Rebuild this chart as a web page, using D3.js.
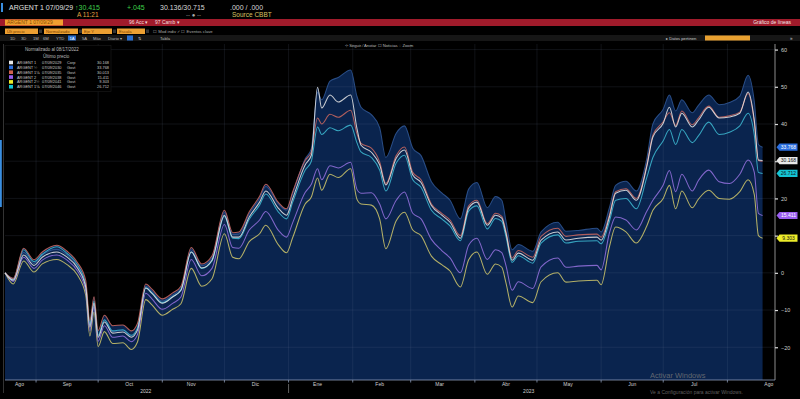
<!DOCTYPE html>
<html><head><meta charset="utf-8">
<script src="https://cdn.jsdelivr.net/npm/d3@7"></script>
<style>html,body{margin:0;padding:0;background:#000;overflow:hidden}svg{display:block}</style>
</head><body>
<svg id="c" width="800" height="399"></svg>
<script>
// ---------- DATA ----------
const dates = ["2022-08-17","2022-08-21","2022-08-26","2022-08-31","2022-09-04","2022-09-11","2022-09-16","2022-09-21","2022-09-25","2022-09-27","2022-09-29","2022-10-01","2022-10-04","2022-10-08","2022-10-13","2022-10-17","2022-10-20","2022-10-24","2022-10-27","2022-11-01","2022-11-06","2022-11-10","2022-11-15","2022-11-20","2022-11-25","2022-12-01","2022-12-05","2022-12-08","2022-12-13","2022-12-18","2022-12-21","2022-12-27","2022-12-31","2023-01-03","2023-01-09","2023-01-12","2023-01-15","2023-01-17","2023-01-21","2023-01-25","2023-01-31","2023-02-03","2023-02-05","2023-02-10","2023-02-14","2023-02-17","2023-02-22","2023-02-26","2023-03-02","2023-03-06","2023-03-11","2023-03-16","2023-03-20","2023-03-25","2023-03-29","2023-04-02","2023-04-07","2023-04-11","2023-04-14","2023-04-16","2023-04-19","2023-04-22","2023-04-29","2023-05-03","2023-05-11","2023-05-15","2023-05-21","2023-05-30","2023-06-01","2023-06-05","2023-06-08","2023-06-13","2023-06-18","2023-06-23","2023-06-26","2023-07-01","2023-07-04","2023-07-07","2023-07-10","2023-07-15","2023-07-18","2023-07-23","2023-07-28","2023-08-02","2023-08-07","2023-08-11","2023-08-14","2023-08-16","2023-08-18"];

const gd29 = [0,-2,4.8,2,4.2,5.6,4.2,1.3,-3.8,-14.6,-8.2,-17.3,-13.2,-16.2,-15.9,-17.3,-15.4,-4.1,-5.5,-8.2,-6.5,-4.7,5.6,1.3,3.4,15.5,9.6,9.6,15,19,22,17.4,15.5,20,29,31.6,49.9,44.3,47.8,45.9,47.8,38.9,34.3,32.4,29,23.6,30.8,33,26.3,24.3,18.1,15.5,13.6,9.3,17.4,19,12.8,15.5,14.7,10.7,3.4,5.3,3.4,8.8,11,8.8,9.3,9.6,8.8,15,21.4,22.2,19.5,28.4,36.5,40.2,44.5,39.2,42.9,39.2,41,44.5,41.6,41.9,42.9,48.6,41,30.3,30.168];
const gd30 = [0,-1.5,5.5,2.5,4.8,6.3,4.8,1.8,-3.4,-14,-7.8,-17,-12.8,-15.8,-15.5,-17,-15,-3.6,-5,-7.6,-6,-4.2,6.2,1.9,4,16.2,10.3,10.4,15.9,20,23.2,18.6,16.8,21.4,30.6,33.4,48.5,46.5,51.5,52.5,54.5,47.5,44.5,42.5,39,31,37.5,39.5,33.5,31.5,24.5,21.5,19.5,14.5,22.5,24.3,17.5,20.5,19.5,14,6.2,7.6,5.8,11,13.6,11.2,11.4,12,11,17.5,23.5,24.6,22,30.5,40,44,47.8,43.5,46.5,43,45,47.8,45.2,45.8,47.5,53.1,46,34.5,33.768];
const gd35 = [0,-1.5,6.6,3.5,5.6,7.4,5.8,2.8,-2,-12.8,-6.4,-15.5,-11.4,-14.2,-14,-15.6,-13.6,-3,-4.4,-7,-5.4,-3.6,6.8,2.4,4.6,16.8,10.8,11,16.4,20.6,23.8,19,17.2,21.8,30.2,32.5,41.6,40,42.6,41.8,43.7,37.5,34.8,33.5,29.8,24,31.5,33.8,27,25,18.5,16,14.2,10,18,19.5,13.2,16,15.2,11.2,4,6,4.2,9.8,12,9.8,10.2,10.4,9.6,15.6,21.8,22.6,20,28.8,37,40.6,43,39.6,43.5,39.8,41.6,44.8,41.8,42.2,43.2,48.2,40.5,30.2,30.013];
const gd38 = [0,-2.3,4.2,1.2,3.4,4.8,3.4,0.5,-4.8,-15.6,-9.2,-18.4,-14.2,-17.3,-17,-18.5,-16.6,-5.5,-7,-9.8,-8.2,-6.5,3.6,-0.8,1.2,13,6.8,6.6,11.5,14.2,16.5,11.5,9.6,13.5,21.6,23.8,28,25,28.8,28.2,29.7,22.5,21.4,21.5,18.5,14.5,19.5,21.7,16,14.5,9,6,4,0,7.4,9.3,3.6,6.2,5.4,2,-4.7,-2.4,-4.2,1.6,4,1.5,1.8,2,0.8,10.7,15,14.2,11.5,16.5,19.5,23.6,27.5,21.8,26.5,22,24.8,27.6,24.5,24,26.5,30.3,27,16,15.411];
const gd41 = [0,-3,3.2,0.2,2.4,3.6,2.2,-0.6,-6,-17,-10.5,-19.8,-15.8,-19,-18.8,-20.6,-18.6,-7.2,-8.6,-11.4,-9.8,-8.3,1.2,-3.6,-1.6,10.5,4.2,3.8,8.4,10.5,12.8,7.6,5.4,9.5,18.5,20.4,25.5,22.2,26.5,25.6,28,19.8,18.5,18.2,14.5,6.5,14,16.3,11.5,10,4.5,2.2,0.5,-3.8,3.5,5.6,-0.4,2.4,1.5,-2.6,-9.2,-6.2,-8,-2.4,0,-2.5,-2.2,-2,-3.2,7,12.3,11,8,12.5,16.8,20,23.5,17.2,22,17.5,19.8,22.2,20,19.8,21.8,25,21,10,9.303];
const gd46 = [0,-1.8,6.2,3,5,7,5.2,2.2,-3.2,-14,-7.6,-16.8,-12.6,-15.6,-15.3,-16.8,-14.8,-4,-5.4,-8,-6.4,-4.6,5.6,1.2,3.2,15.2,9.3,9.2,14.4,18.2,21.2,16.4,14.5,19,27.6,30,39.2,37.2,39,38.2,39.7,35,32.5,31,27.6,22,29.5,31.6,25,23,16.8,14.5,12.6,8.6,16.6,18,11.8,14.6,13.8,9.8,2.8,4.6,2.6,8,10.2,8,8.5,8.6,7.8,13.8,19.5,20,17.2,25.5,31,35.5,38.5,34.5,38.5,35,36.8,40.5,37.2,37.8,39.5,42.9,37,27,26.712];

const seriesKeys   = ["gd29","gd30","gd35","gd38","gd41","gd46"];
const seriesValues = [gd29, gd30, gd35, gd38, gd41, gd46];
const seriesCoupon = ["1","½","1⅛","2","2½","1⅛"];
const seriesMat    = ["07/09/2029","07/09/2030","07/09/2035","07/09/2038","07/09/2041","07/09/2046"];
const seriesType   = ["Corp","Govt","Govt","Govt","Govt","Govt"];
const seriesLast   = ["30.168","33.768","30.013","15.411","9.303","26.712"];
const seriesColor  = ["#e2e2e2","#2f5593","#c8675e","#9270dc","#cbc36a","#3cb6cf"];
const labelColor   = ["#e8e8e8","#2b6fe0","#d0604e","#9a5ef0","#ecec2a","#14c4d4"];
const labelText    = ["#111","#fff","#fff","#fff","#111","#111"];
const showLabel    = [true,true,false,true,true,true];

const yTicks = [-20,-10,0,10,20,30,40,50,60];
const monthStarts = ["2022-09-01","2022-10-01","2022-11-01","2022-12-01","2023-01-01","2023-02-01","2023-03-01","2023-04-01","2023-05-01","2023-06-01","2023-07-01","2023-08-01"];
const monthLabelDates = ["2022-08-24","2022-09-16","2022-10-16","2022-11-15","2022-12-16","2023-01-15","2023-02-14","2023-03-15","2023-04-16","2023-05-16","2023-06-16","2023-07-16","2023-08-21"];
const monthLabels = ["Ago","Sep","Oct","Nov","Dic","Ene","Feb","Mar","Abr","May","Jun","Jul","Ago"];
const yearLabelDates = ["2022-10-24","2023-04-27"];
const yearLabels = ["2022","2023"];
const yearBreak = "2023-01-01";

// ---------- SETUP ----------
const svg = d3.select("#c");
const parse = d3.timeParse("%Y-%m-%d");
const D = dates.map(parse);
const FONT = "Liberation Sans, Arial, sans-serif";

const x = d3.scaleTime().domain([parse("2022-08-17"), parse("2023-08-24")]).range([5, 775]);
const y = d3.scaleLinear().domain([-28.8, 61.5]).range([380, 44]);

// ---------- HEADER ----------
const hdr = svg.append("g").attr("font-family", FONT);
hdr.append("rect").attr("x",1).attr("y",3).attr("width",2).attr("height",9).attr("fill","#3a8ee0");
hdr.append("text").attr("x",9).attr("y",10).attr("font-size",7).attr("fill","#e0e0e0").text("ARGENT 1 07/09/29");
hdr.append("text").attr("x",75).attr("y",10).attr("font-size",7).attr("fill","#3ecf4a").text("↑30.415");
hdr.append("text").attr("x",127).attr("y",10).attr("font-size",7).attr("fill","#3ecf4a").text("+.045");
hdr.append("text").attr("x",160).attr("y",10).attr("font-size",7).attr("fill","#d8d8d8").text("30.136/30.715");
hdr.append("text").attr("x",230).attr("y",10).attr("font-size",7).attr("fill","#d8d8d8").text(".000 / .000");
hdr.append("text").attr("x",77).attr("y",17).attr("font-size",6.5).attr("fill","#e0a040").text("A  11:21");
hdr.append("text").attr("x",186).attr("y",17).attr("font-size",6).attr("fill","#aaa").text("-- ● --");
hdr.append("text").attr("x",232).attr("y",17).attr("font-size",6.5).attr("fill","#d8c060").text("Source CBBT");

hdr.append("rect").attr("x",0).attr("y",19).attr("width",800).attr("height",7).attr("fill","#a01b2b");
hdr.append("rect").attr("x",5).attr("y",19.5).attr("width",58).attr("height",6).attr("fill","#f0a030");
hdr.append("text").attr("x",7).attr("y",24.3).attr("font-size",5).attr("fill","#8a4a00").text("ARGENT 1 07/09/29");
hdr.append("text").attr("x",129).attr("y",24.3).attr("font-size",5).attr("fill","#f4dede").text("96 Acc ▾");
hdr.append("text").attr("x",155).attr("y",24.3).attr("font-size",5).attr("fill","#f4dede").text("97 Camb ▾");
hdr.append("text").attr("x",791).attr("y",24.3).attr("font-size",5).attr("text-anchor","end").attr("fill","#f4e8e8").text("Gráfico de líneas");

const boxes = [[5,33,"Últ precio"],[44,34,"Normalizado"],[82,30,"Eje Y"],[117,28,"Escala"]];
boxes.forEach(b => {
  hdr.append("rect").attr("x",b[0]).attr("y",28.5).attr("width",b[1]).attr("height",5.5).attr("fill","#eda032");
  hdr.append("text").attr("x",b[0]+2).attr("y",32.8).attr("font-size",4.2).attr("fill","#7a4200").text(b[2]);
  hdr.append("rect").attr("x",b[0]+b[1]+1).attr("y",29.5).attr("width",3).attr("height",3.5).attr("fill","#333");
});
hdr.append("text").attr("x",153).attr("y",32.8).attr("font-size",4.2).attr("fill","#aaa").text("☐ Mod indiv ✓   ☐ Eventos clave");

hdr.append("rect").attr("x",0).attr("y",35).attr("width",800).attr("height",6).attr("fill","#161616");
const tb = [[10,"1D"],[21,"3D"],[33,"1M"],[43,"6M"],[56,"YTD"],[82,"5A"],[93,"Máx"],[108,"Diario ▾"],[138,"⇅"],[160,"Tabla"]];
tb.forEach(t => hdr.append("text").attr("x",t[0]).attr("y",39.6).attr("font-size",4.2).attr("fill","#b8b8b8").text(t[1]));
hdr.append("rect").attr("x",68).attr("y",35.5).attr("width",8).attr("height",5).attr("fill","#2a70d0");
hdr.append("text").attr("x",69.5).attr("y",39.6).attr("font-size",4.2).attr("fill","#fff").text("1A");
hdr.append("rect").attr("x",127).attr("y",35.5).attr("width",6).attr("height",5).attr("fill","#2a70d0");
hdr.append("text").attr("x",666).attr("y",39.6).attr("font-size",4.2).attr("fill","#ccc").text("▸ Datos pertinen");
hdr.append("rect").attr("x",705).attr("y",35.5).attr("width",45).attr("height",5).attr("fill","#e8a030");
hdr.append("text").attr("x",790).attr("y",39.6).attr("font-size",4.5).attr("fill","#ccc").text("»");
hdr.append("text").attr("x",345).attr("y",47).attr("font-size",4.2).attr("fill","#bbb").text("⊹ Seguir   ⁄ Anotar   ☐ Noticias   ◌ Zoom");

// ---------- PLOT ----------
const plot = svg.append("g");
const area = d3.area()
  .x((d,i) => x(D[i]))
  .y0(y(-28.8))
  .y1((d,i) => y(d3.max(seriesValues, s => s[i])))
  .curve(d3.curveMonotoneX);
plot.append("path").datum(dates).attr("d", area).attr("fill","#0a244e");

plot.selectAll(".gy").data(yTicks).join("line")
  .attr("x1",5).attr("x2",775).attr("y1",d=>y(d)).attr("y2",d=>y(d))
  .attr("stroke","#8090b0").attr("stroke-opacity",0.16).attr("stroke-width",0.8);
plot.selectAll(".gx").data(monthStarts).join("line")
  .attr("x1",d=>x(parse(d))).attr("x2",d=>x(parse(d))).attr("y1",44).attr("y2",380)
  .attr("stroke","#8090b0").attr("stroke-opacity",0.16).attr("stroke-width",0.8);

const line = d3.line().x((d,i)=>x(D[i])).y(d=>y(d)).curve(d3.curveMonotoneX);
const drawOrder = [1,4,3,5,2,0];
drawOrder.forEach(k => {
  plot.append("path").datum(seriesValues[k]).attr("d", line)
    .attr("fill","none").attr("stroke",seriesColor[k]).attr("stroke-width",1.05)
    .attr("stroke-opacity",0.88).attr("stroke-linejoin","round");
});

svg.append("rect").attr("x",0).attr("y",140).attr("width",1.8).attr("height",67).attr("fill","#3a8ee0");
svg.append("line").attr("x1",3.5).attr("x2",3.5).attr("y1",44).attr("y2",393).attr("stroke","#333").attr("stroke-width",1);

// ---------- RIGHT AXIS ----------
const yAxis = d3.axisRight(y).tickValues(yTicks).tickSize(3).tickPadding(3).tickFormat(d3.format("d"));
const ya = svg.append("g").attr("transform","translate(775,0)").call(yAxis);
ya.select(".domain").attr("stroke","#b0b0b0").attr("stroke-width",0.8).attr("d","M0,44V380");
ya.selectAll(".tick line").attr("stroke","#ddd").attr("stroke-width",1.2);
ya.selectAll("text").attr("fill","#cfcfcf").attr("font-size",5.5).attr("font-family",FONT);
ya.selectAll(".tick").filter(d => d === 30 || d === 10).select("text").remove();

const labOrder = [1,5,3,4,0];
labOrder.forEach(k => {
  if (!showLabel[k]) return;
  const vals = seriesValues[k];
  const yc = y(vals[vals.length-1]);
  const g = svg.append("g");
  g.append("path").attr("d",`M776.5,${yc} L779.5,${yc-3.6} L797.5,${yc-3.6} L797.5,${yc+3.6} L779.5,${yc+3.6} Z`)
    .attr("fill",labelColor[k]);
  g.append("text").attr("x",788.5).attr("y",yc+1.8).attr("text-anchor","middle")
    .attr("font-size",5).attr("font-family",FONT).attr("fill",labelText[k]).text(seriesLast[k]);
});

// ---------- X AXIS ----------
const xa = svg.append("g").attr("font-family",FONT);
xa.append("line").attr("x1",5).attr("x2",775).attr("y1",380).attr("y2",380).attr("stroke","#8a9ab8").attr("stroke-width",0.8);
xa.selectAll(".xt").data(monthStarts).join("line")
  .attr("x1",d=>x(parse(d))).attr("x2",d=>x(parse(d))).attr("y1",380).attr("y2",382.5)
  .attr("stroke","#8a9ab8").attr("stroke-width",0.8);
xa.selectAll(".ml").data(monthLabels).join("text")
  .attr("x",(d,i)=>x(parse(monthLabelDates[i]))).attr("y",386)
  .attr("text-anchor","middle").attr("font-size",5).attr("fill","#d0d0d0").text(d=>d);
xa.selectAll(".yl").data(yearLabels).join("text")
  .attr("x",(d,i)=>x(parse(yearLabelDates[i]))).attr("y",392.5)
  .attr("text-anchor","middle").attr("font-size",5).attr("fill","#d0d0d0").text(d=>d);
xa.append("line").attr("x1",x(parse(yearBreak))).attr("x2",x(parse(yearBreak))).attr("y1",384).attr("y2",393)
  .attr("stroke","#777").attr("stroke-width",0.8);

// ---------- LEGEND ----------
const lg = svg.append("g").attr("font-family",FONT);
lg.append("rect").attr("x",5).attr("y",45.5).attr("width",106).attr("height",46).attr("fill","#000").attr("stroke","#1c1c1c").attr("stroke-width",0.6);
lg.append("text").attr("x",25).attr("y",51).attr("font-size",4.5).attr("fill","#bbb").text("Normalizado al 08/17/2022");
lg.append("text").attr("x",43).attr("y",57.5).attr("font-size",4.5).attr("fill","#bbb").text("Último precio");
seriesKeys.forEach((k,i) => {
  const yy = 62.5 + i*4.85;
  const fs = 3.9;
  lg.append("rect").attr("x",9).attr("y",yy-1.8).attr("width",4).attr("height",3.6).attr("fill",labelColor[i]);
  lg.append("text").attr("x",17).attr("y",yy+1.5).attr("font-size",fs).attr("fill","#c8c8c8").text("ARGENT");
  lg.append("text").attr("x",34).attr("y",yy+1.5).attr("font-size",fs).attr("fill","#c8c8c8").text(seriesCoupon[i]);
  lg.append("text").attr("x",42).attr("y",yy+1.5).attr("font-size",fs).attr("fill","#c8c8c8").text(seriesMat[i]);
  lg.append("text").attr("x",67).attr("y",yy+1.5).attr("font-size",fs).attr("fill","#c8c8c8").text(seriesType[i]);
  lg.append("text").attr("x",109).attr("y",yy+1.5).attr("text-anchor","end").attr("font-size",fs).attr("fill","#c8c8c8").text(seriesLast[i]);
});

// ---------- WATERMARK ----------
svg.append("text").attr("x",650).attr("y",378).attr("font-family",FONT).attr("font-size",7.5).attr("fill","#7a7a7a").attr("fill-opacity",0.8).text("Activar Windows");
svg.append("text").attr("x",650).attr("y",393.5).attr("font-family",FONT).attr("font-size",5).attr("fill","#7a7a7a").attr("fill-opacity",0.8).text("Ve a Configuración para activar Windows.");
</script>
</body></html>
